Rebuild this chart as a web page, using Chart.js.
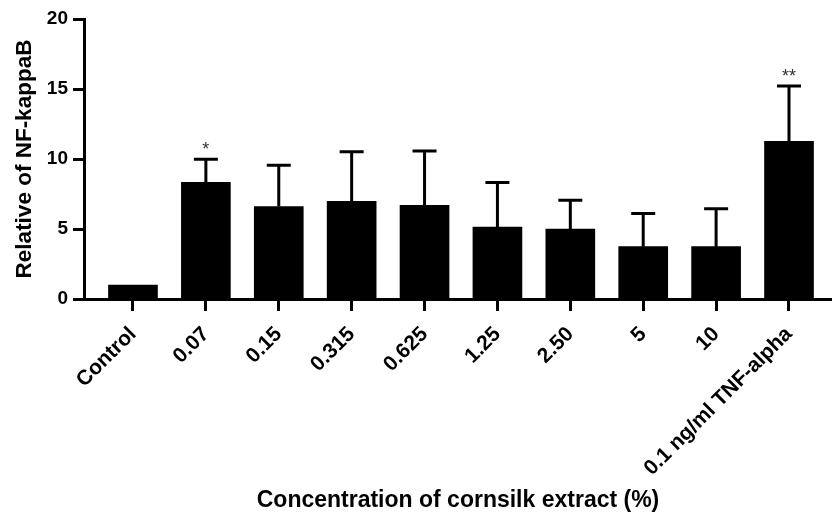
<!DOCTYPE html>
<html>
<head>
<meta charset="utf-8">
<script src="https://cdn.jsdelivr.net/npm/chart.js@4"></script>
<style>
  body { margin: 0; background: #fff; }
</style>
</head>
<body>
<canvas id="myBarChart" width="832" height="518"></canvas>
<script>
// data
var categories = ["Control", "0.07", "0.15", "0.315", "0.625", "1.25", "2.50", "5", "10", "0.1 ng/ml TNF-alpha"];
var means = [1.0, 8.33, 6.61, 6.97, 6.69, 5.14, 5.0, 3.74, 3.74, 11.26];
var errors = [0, 1.66, 2.95, 3.54, 3.89, 3.18, 2.06, 2.37, 2.70, 3.96];
var stars = ["", "*", "", "", "", "", "", "", "", "**"];
var yTicks = [0, 5, 10, 15, 20];

var fontFamily = "'Liberation Sans', Arial, sans-serif";

// upward error bars with caps, plus the significance stars
var errorBars = {
    id: 'errorBars',
    afterDatasetsDraw: function(chart) {
        var ctx = chart.ctx;
        var xs = chart.scales.x;
        var ys = chart.scales.y;
        ctx.save();
        ctx.strokeStyle = '#000';
        ctx.lineWidth = 3;
        ctx.fillStyle = '#333';
        ctx.font = "18px " + fontFamily;
        ctx.textAlign = 'center';
        ctx.textBaseline = 'alphabetic';
        means.forEach(function(m, i) {
            var px = xs.getPixelForValue(i);
            var top = ys.getPixelForValue(m + errors[i]);
            if (errors[i]) {
                ctx.beginPath();
                ctx.moveTo(px, ys.getPixelForValue(m));
                ctx.lineTo(px, top);
                ctx.moveTo(px - 12, top);
                ctx.lineTo(px + 12, top);
                ctx.stroke();
            }
            if (stars[i]) {
                ctx.fillText(stars[i], px, top - 4);
            }
        });
        ctx.restore();
    }
};

var ctx = document.getElementById('myBarChart').getContext('2d');
var chart = new Chart(ctx, {
    type: 'bar',
    data: {
        datasets: [{
            label: "Relative of NF-kappaB",
            backgroundColor: "#000",
            barThickness: 49,
            data: means.map(function(v, i) { return { x: i, y: v }; })
        }]
    },
    options: {
        responsive: false,
        animation: false,
        layout: { padding: { top: 19, right: 0, bottom: 0, left: 0 } },
        plugins: {
            legend: { display: false },
            tooltip: { enabled: false }
        },
        scales: {
            x: {
                type: 'linear',
                offset: false,
                min: -0.672,
                max: 9.59,
                afterFit: function(scale) { scale.height = 219; },
                border: { color: '#000', width: 3 },
                grid: { offset: false, drawOnChartArea: false, tickLength: 12, tickWidth: 3, tickColor: '#000' },
                ticks: {
                    stepSize: 1,
                    includeBounds: false,
                    autoSkip: false,
                    minRotation: 45,
                    maxRotation: 45,
                    padding: 11,
                    color: '#000',
                    font: { family: fontFamily, size: 21, weight: 'bold' },
                    callback: function(v) { return categories[v]; }
                },
                title: {
                    display: true,
                    text: "Concentration of cornsilk extract (%)",
                    color: '#000',
                    font: { family: fontFamily, size: 23, weight: 'bold' },
                    padding: { top: 0, bottom: 4 }
                }
            },
            y: {
                min: 0,
                max: 20,
                afterFit: function(scale) { scale.width = 84; },
                afterBuildTicks: function(scale) {
                    scale.ticks = yTicks.map(function(v) { return { value: v }; });
                },
                border: { color: '#000', width: 3 },
                grid: { drawOnChartArea: false, tickLength: 11, tickWidth: 3, tickColor: '#000' },
                ticks: {
                    padding: 5,
                    color: '#000',
                    font: { family: fontFamily, size: 19, weight: 'bold' }
                },
                title: {
                    display: true,
                    text: "Relative of NF-kappaB",
                    color: '#000',
                    font: { family: fontFamily, size: 22.5, weight: 'bold' },
                    padding: { top: 11, bottom: 0 }
                }
            }
        }
    },
    plugins: [errorBars]
});
</script>
</body>
</html>
